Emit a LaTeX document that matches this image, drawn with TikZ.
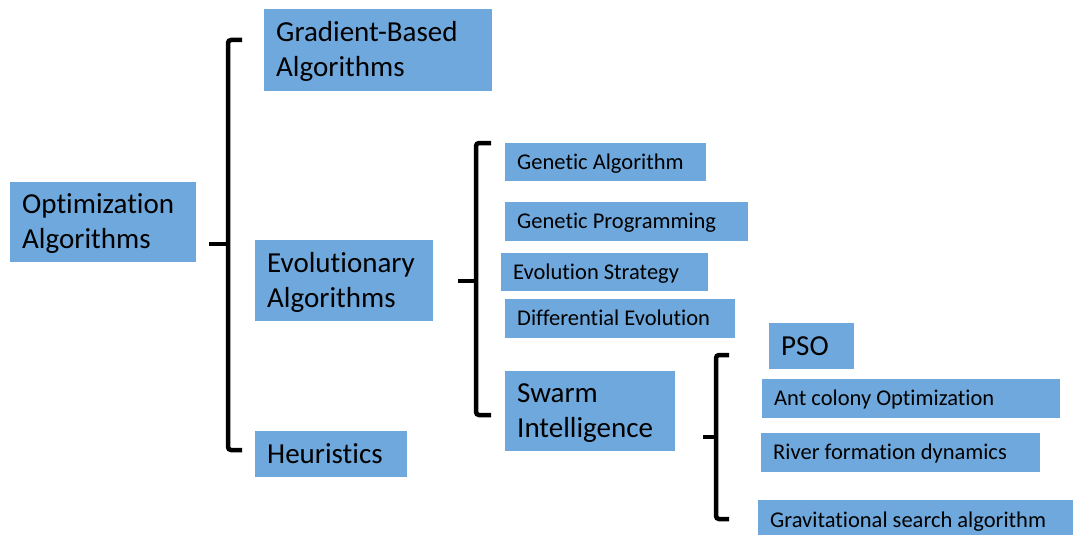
\documentclass[tikz,border=0pt]{standalone}
\usepackage{fontspec}
\setmainfont{Carlito}[Ligatures=NoCommon]
\definecolor{boxblue}{RGB}{111,168,220}
% left-aligned label whose baseline is its first line
\newcommand\lbl[2]{\parbox[t]{#1}{\raggedright #2}}
\begin{document}
\hyphenpenalty=10000\relax
\exhyphenpenalty=10000\relax
\begin{tikzpicture}[x=1pt,y=-1pt,
  box/.style={fill=boxblue, anchor=north west, inner xsep=12pt, inner ysep=0pt, text=black},
  big/.style={font=\fontsize{29}{35}\selectfont, text height=18pt, text depth=0pt},
  bigtwo/.style={font=\fontsize{29}{35}\selectfont, text height=0pt, text depth=17pt},
  small/.style={font=\fontsize{22.5}{27}\selectfont, text height=14.5pt, text depth=0pt},
  brace/.style={line width=4.5pt, rounded corners=3pt}]
\useasboundingbox (0,0) rectangle (1073,535);
\clip (0,0) rectangle (1073,535);

% top level
\node[box,bigtwo,minimum width=186pt,minimum height=80pt] (opt) at (10,182) {\lbl{162pt}{Optimization\\Algorithms}};

% second level
\node[box,bigtwo,minimum width=228pt,minimum height=82pt] (grad) at (264,9) {\lbl{204pt}{Gradient-Based\\Algorithms}};
\node[box,bigtwo,minimum width=178pt,minimum height=81pt] (evo) at (255,240) {\lbl{154pt}{Evolutionary\\Algorithms}};
\node[box,big,minimum width=152pt,minimum height=46pt] (heur) at (255,431) {\lbl{128pt}{Heuristics}};

% evolutionary algorithms
\node[box,small,minimum width=201pt,minimum height=38pt] (ga) at (505,143) {\lbl{177pt}{Genetic Algorithm}};
\node[box,small,minimum width=243pt,minimum height=39pt] (gp) at (505,202) {\lbl{219pt}{Genetic Programming}};
\node[box,small,minimum width=207pt,minimum height=38pt] (es) at (501,253) {\lbl{183pt}{Evolution Strategy}};
\node[box,small,minimum width=230pt,minimum height=39pt] (de) at (505,299) {\lbl{206pt}{Differential Evolution}};
\node[box,bigtwo,minimum width=170pt,minimum height=80pt] (swarm) at (505,371) {\lbl{146pt}{Swarm\\Intelligence}};

% swarm intelligence
\node[box,big,minimum width=85pt,minimum height=46pt] (pso) at (769,323) {\lbl{61pt}{PSO}};
\node[box,small,minimum width=298pt,minimum height=39pt] (aco) at (762,379) {\lbl{274pt}{Ant colony Optimization}};
\node[box,small,minimum width=279pt,minimum height=39pt] (rfd) at (761,433) {\lbl{255pt}{River formation dynamics}};
\node[box,small,minimum width=320pt,minimum height=40pt] (gsa) at (758,500) {\lbl{296pt}{Gravitational search algorithm}};

% grouping brackets
\draw[brace] (242,40) -- (228,40) -- (228,450) -- (242,450);
\draw[brace] (209,244) -- (228,244);

\draw[brace] (491,143) -- (476,143) -- (476,415) -- (491,415);
\draw[brace] (458,281) -- (476,281);

\draw[brace] (729,355) -- (716,355) -- (716,519) -- (729,519);
\draw[brace] (703,437) -- (716,437);
\end{tikzpicture}
\end{document}
